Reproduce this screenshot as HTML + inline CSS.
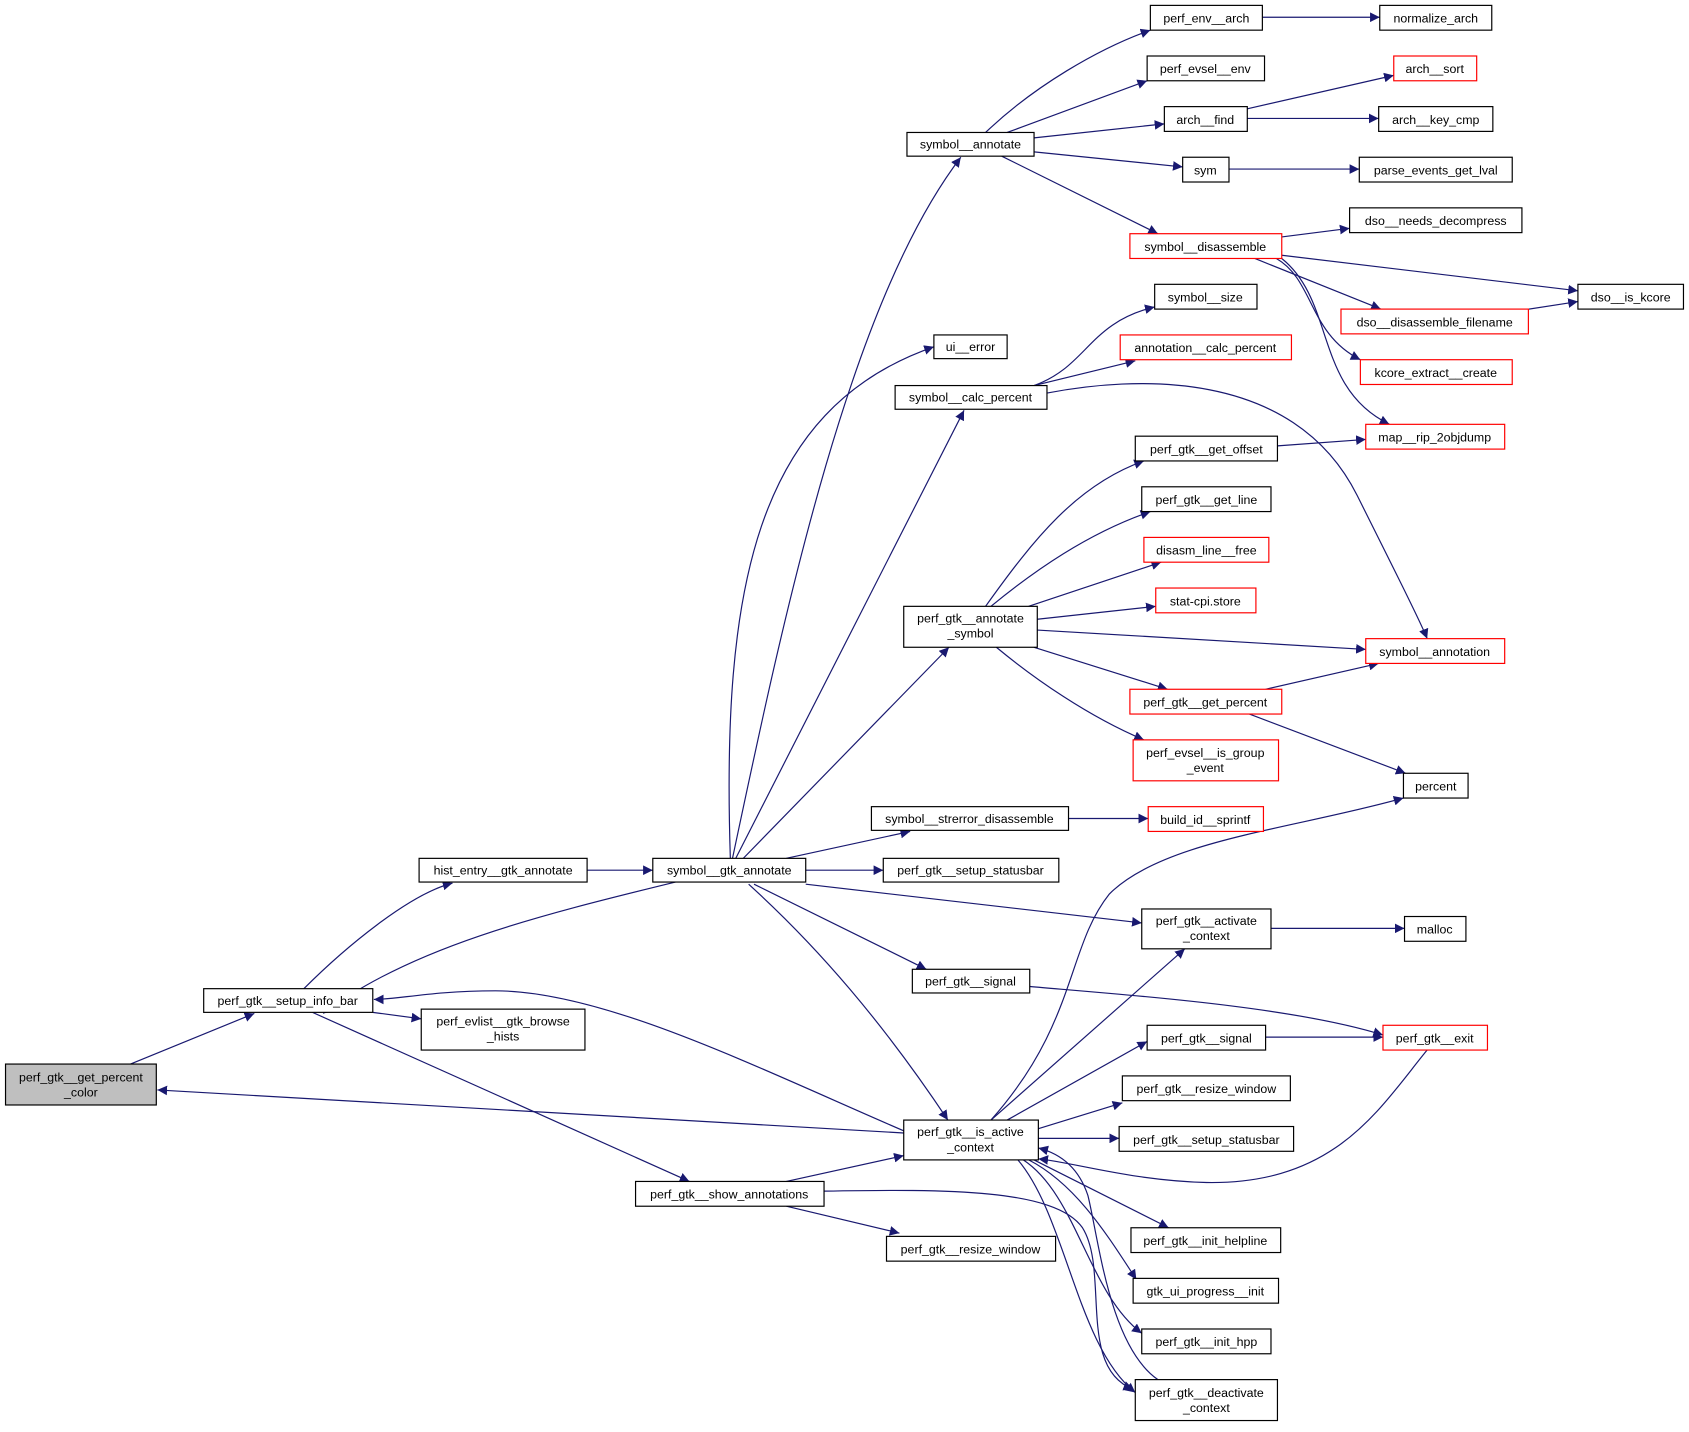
<!DOCTYPE html>
<html><head><meta charset="utf-8"><style>
html,body{margin:0;padding:0;background:#fff}
svg text{font-family:"Liberation Sans",sans-serif;font-size:11.5px;fill:#000;text-anchor:middle}
</style></head><body>
<svg width="1689" height="1427" viewBox="0 0 1568 1325" xmlns="http://www.w3.org/2000/svg">
<defs><marker id="a" viewBox="0 0 10 10" refX="10" refY="5" markerWidth="9" markerHeight="9" markerUnits="userSpaceOnUse" orient="auto"><path d="M0,0L10,5L0,10z" fill="#191970"/></marker></defs>
<g fill="none" stroke="#191970" stroke-width="1.1" marker-end="url(#a)">
<path d="M121,988L236,941"/>
<path d="M282,918C320,880 380,830 420,820"/>
<path d="M627,819C500,850 380,880 300,941"/>
<path d="M839,1050C700,990 560,920 460,920 400,920 370,928 347,928"/>
<path d="M839,1052L146,1012"/>
<path d="M346,940L391,946"/>
<path d="M290,940L640,1097"/>
<path d="M545,808L606,808"/>
<path d="M680,797C730,560 790,280 892,146"/>
<path d="M678,797C670,550 700,380 867,322"/>
<path d="M683,797L895,381"/>
<path d="M690,797L881,601"/>
<path d="M730,797L845,772"/>
<path d="M748,808L820,808"/>
<path d="M748,821L1060,857"/>
<path d="M700,821L860,900"/>
<path d="M695,821C760,880 820,950 880,1040"/>
<path d="M730,1097L839,1073"/>
<path d="M730,1120L835,1145"/>
<path d="M765,1106C880,1104 980,1104 1005,1140 1030,1180 1000,1270 1052,1290"/>
<path d="M920,1040L1100,881"/>
<path d="M920,1040C1000,950 990,880 1030,830 1080,780 1200,770 1303,741"/>
<path d="M935,1040L1065,967"/>
<path d="M964,1048L1042,1024"/>
<path d="M964,1057L1039,1057"/>
<path d="M960,1077L1085,1140"/>
<path d="M955,1077C1000,1100 1030,1150 1055,1188"/>
<path d="M950,1077C1000,1110 1010,1200 1060,1238"/>
<path d="M945,1077C990,1130 1000,1250 1054,1293"/>
<path d="M1075,1281C1030,1250 1020,1150 1010,1110 1000,1080 980,1070 964,1066"/>
<path d="M1325,975C1280,1030 1240,1100 1120,1098 1050,1096 1000,1080 964,1076"/>
<path d="M956,916C1060,925 1200,935 1284,961"/>
<path d="M1175,963L1284,963"/>
<path d="M1180,862L1304,862"/>
<path d="M915,123C960,80 1020,45 1068,28"/>
<path d="M935,123L1065,75"/>
<path d="M960,128L1081,115"/>
<path d="M960,141L1098,155"/>
<path d="M930,145L1075,217"/>
<path d="M1172,16L1281,16"/>
<path d="M1158,101L1294,70"/>
<path d="M1158,110L1280,110"/>
<path d="M1141,157L1262,157"/>
<path d="M1190,220L1253,212"/>
<path d="M1190,237L1465,270"/>
<path d="M1165,240L1282,287"/>
<path d="M1185,240C1220,260 1215,310 1263,334"/>
<path d="M1190,240C1240,280 1220,360 1290,394"/>
<path d="M1400,290L1465,280"/>
<path d="M960,358C1010,340 1010,300 1072,285"/>
<path d="M960,358L1054,335"/>
<path d="M972,365C1050,350 1200,340 1260,460 1300,540 1320,580 1325,593"/>
<path d="M915,563C960,500 1000,450 1062,428"/>
<path d="M920,563C960,530 1010,495 1068,475"/>
<path d="M955,563L1078,522"/>
<path d="M963,575L1073,563"/>
<path d="M963,585L1268,603"/>
<path d="M960,601L1084,640"/>
<path d="M925,601C960,630 1010,665 1062,687"/>
<path d="M1186,414L1268,408"/>
<path d="M1175,640L1280,616"/>
<path d="M1160,663L1305,718"/>
<path d="M992,760L1066,760"/>
</g>
<g stroke-width="1.1" fill="#fff">
<rect x="5" y="988" width="140" height="38" fill="#bfbfbf" stroke="#000"/>
<g stroke="#000">
<rect x="189" y="918" width="157" height="22"/>
<rect x="391" y="937" width="152" height="38"/>
<rect x="389" y="797" width="156" height="22"/>
<rect x="606" y="797" width="142" height="22"/>
<rect x="590" y="1097" width="175" height="23"/>
<rect x="823" y="1148" width="157" height="23"/>
<rect x="839" y="1040" width="125" height="37"/>
<rect x="842" y="123" width="118" height="22"/>
<rect x="867" y="311" width="68" height="22"/>
<rect x="831" y="358" width="141" height="22"/>
<rect x="839" y="563" width="124" height="38"/>
<rect x="809" y="749" width="183" height="22"/>
<rect x="820" y="797" width="163" height="22"/>
<rect x="847" y="900" width="109" height="22"/>
<rect x="1068" y="5" width="104" height="23"/>
<rect x="1281" y="5" width="104" height="23"/>
<rect x="1065" y="52" width="109" height="23"/>
<rect x="1081" y="99" width="77" height="23"/>
<rect x="1280" y="99" width="106" height="23"/>
<rect x="1098" y="146" width="43" height="23"/>
<rect x="1262" y="146" width="142" height="23"/>
<rect x="1253" y="193" width="160" height="23"/>
<rect x="1465" y="264" width="98" height="23"/>
<rect x="1072" y="264" width="95" height="23"/>
<rect x="1054" y="405" width="132" height="23"/>
<rect x="1060" y="452" width="120" height="23"/>
<rect x="1303" y="718" width="60" height="23"/>
<rect x="1060" y="844" width="120" height="37"/>
<rect x="1304" y="851" width="57" height="23"/>
<rect x="1065" y="952" width="110" height="23"/>
<rect x="1042" y="999" width="156" height="23"/>
<rect x="1039" y="1046" width="162" height="23"/>
<rect x="1050" y="1140" width="139" height="23"/>
<rect x="1052" y="1187" width="135" height="23"/>
<rect x="1060" y="1234" width="120" height="23"/>
<rect x="1054" y="1281" width="132" height="38"/>
</g>
<g stroke="#ff0000">
<rect x="1294" y="52" width="77" height="23"/>
<rect x="1049" y="217" width="141" height="23"/>
<rect x="1040" y="311" width="159" height="23"/>
<rect x="1245" y="287" width="174" height="23"/>
<rect x="1263" y="334" width="141" height="23"/>
<rect x="1268" y="394" width="129" height="23"/>
<rect x="1062" y="499" width="116" height="23"/>
<rect x="1073" y="546" width="93" height="23"/>
<rect x="1268" y="593" width="129" height="23"/>
<rect x="1049" y="640" width="141" height="23"/>
<rect x="1052" y="687" width="135" height="38"/>
<rect x="1066" y="749" width="107" height="23"/>
<rect x="1284" y="952" width="97" height="23"/>
</g>
</g>
<g>
<text x="75" y="1004">perf_gtk__get_percent</text><text x="75" y="1018">_color</text>
<text x="267" y="933">perf_gtk__setup_info_bar</text>
<text x="467" y="952">perf_evlist__gtk_browse</text><text x="467" y="966">_hists</text>
<text x="467" y="812">hist_entry__gtk_annotate</text>
<text x="677" y="812">symbol__gtk_annotate</text>
<text x="677" y="1113">perf_gtk__show_annotations</text>
<text x="901" y="1164">perf_gtk__resize_window</text>
<text x="901" y="1055">perf_gtk__is_active</text><text x="901" y="1069">_context</text>
<text x="901" y="138">symbol__annotate</text>
<text x="901" y="326">ui__error</text>
<text x="901" y="373">symbol__calc_percent</text>
<text x="901" y="578">perf_gtk__annotate</text><text x="901" y="592">_symbol</text>
<text x="900" y="764">symbol__strerror_disassemble</text>
<text x="901" y="812">perf_gtk__setup_statusbar</text>
<text x="901" y="915">perf_gtk__signal</text>
<text x="1120" y="21">perf_env__arch</text>
<text x="1333" y="21">normalize_arch</text>
<text x="1119" y="68">perf_evsel__env</text>
<text x="1332" y="68">arch__sort</text>
<text x="1119" y="115">arch__find</text>
<text x="1333" y="115">arch__key_cmp</text>
<text x="1119" y="162">sym</text>
<text x="1333" y="162">parse_events_get_lval</text>
<text x="1333" y="209">dso__needs_decompress</text>
<text x="1119" y="233">symbol__disassemble</text>
<text x="1514" y="280">dso__is_kcore</text>
<text x="1119" y="280">symbol__size</text>
<text x="1332" y="303">dso__disassemble_filename</text>
<text x="1119" y="327">annotation__calc_percent</text>
<text x="1333" y="350">kcore_extract__create</text>
<text x="1332" y="410">map__rip_2objdump</text>
<text x="1120" y="421">perf_gtk__get_offset</text>
<text x="1120" y="468">perf_gtk__get_line</text>
<text x="1120" y="515">disasm_line__free</text>
<text x="1119" y="562">stat-cpi.store</text>
<text x="1332" y="609">symbol__annotation</text>
<text x="1119" y="656">perf_gtk__get_percent</text>
<text x="1119" y="703">perf_evsel__is_group</text><text x="1119" y="717">_event</text>
<text x="1333" y="734">percent</text>
<text x="1119" y="765">build_id__sprintf</text>
<text x="1120" y="859">perf_gtk__activate</text><text x="1120" y="873">_context</text>
<text x="1332" y="867">malloc</text>
<text x="1332" y="968">perf_gtk__exit</text>
<text x="1120" y="968">perf_gtk__signal</text>
<text x="1120" y="1015">perf_gtk__resize_window</text>
<text x="1120" y="1062">perf_gtk__setup_statusbar</text>
<text x="1119" y="1156">perf_gtk__init_helpline</text>
<text x="1119" y="1203">gtk_ui_progress__init</text>
<text x="1120" y="1250">perf_gtk__init_hpp</text>
<text x="1120" y="1297">perf_gtk__deactivate</text><text x="1120" y="1311">_context</text>
</g>
</svg>
</body></html>
